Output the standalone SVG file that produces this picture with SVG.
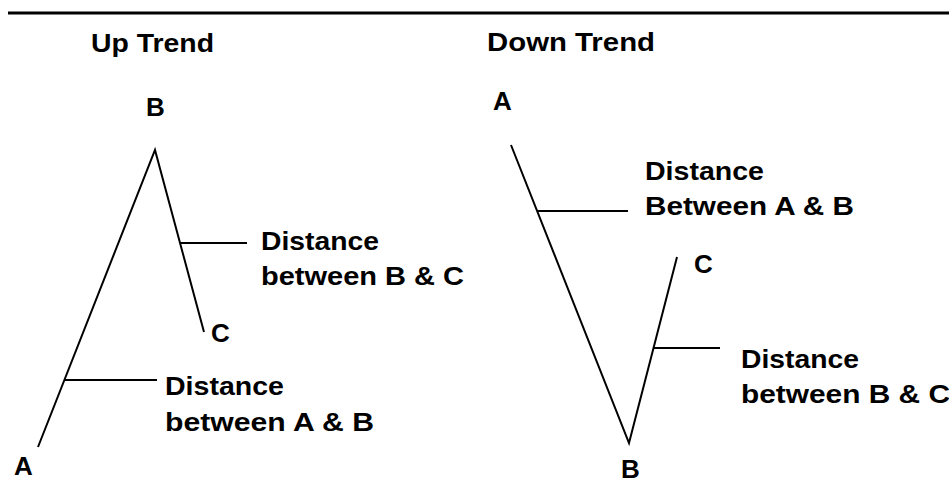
<svg xmlns="http://www.w3.org/2000/svg" width="949" height="481" viewBox="0 0 949 481">
<style>
text{font-family:"Liberation Sans",Arial,sans-serif;font-weight:bold;font-size:26px;fill:#000}
.ln{stroke:#000;stroke-width:2;fill:none;stroke-linecap:butt}
</style>
<rect width="949" height="481" fill="#fff"/>
<line x1="8" y1="13" x2="949" y2="13" stroke="#000" stroke-width="3"/>
<g id="up-title"><text x="91" y="52" textLength="123" lengthAdjust="spacingAndGlyphs">Up Trend</text></g>
<g id="down-title"><text x="487" y="51" textLength="168" lengthAdjust="spacingAndGlyphs">Down Trend</text></g>
<g id="up-B"><text x="146" y="116">B</text></g>
<g id="up-C"><text x="211" y="342">C</text></g>
<g id="up-A"><text x="14" y="475">A</text></g>
<g id="up-BC-label"><text x="261" y="250" textLength="118" lengthAdjust="spacingAndGlyphs">Distance</text><text x="261" y="285" textLength="203" lengthAdjust="spacingAndGlyphs">between B &amp; C</text></g>
<g id="up-AB-label"><text x="165" y="395" textLength="119" lengthAdjust="spacingAndGlyphs">Distance</text><text x="165" y="431" textLength="209" lengthAdjust="spacingAndGlyphs">between A &amp; B</text></g>
<g id="down-A"><text x="493" y="110">A</text></g>
<g id="down-C"><text x="694" y="273">C</text></g>
<g id="down-B"><text x="621" y="478">B</text></g>
<g id="down-AB-label"><text x="645" y="180" textLength="119" lengthAdjust="spacingAndGlyphs">Distance</text><text x="645" y="215" textLength="209" lengthAdjust="spacingAndGlyphs">Between A &amp; B</text></g>
<g id="down-BC-label"><text x="741" y="368" textLength="118" lengthAdjust="spacingAndGlyphs">Distance</text><text x="741" y="403" textLength="209" lengthAdjust="spacingAndGlyphs">between B &amp; C</text></g>
<g id="connectors">
<polyline class="ln" points="38,447 155,150 204,332"/>
<line class="ln" x1="180" y1="243" x2="247" y2="243"/>
<line class="ln" x1="64" y1="380" x2="157" y2="380"/>
<polyline class="ln" points="511,145 629,443 677,257"/>
<line class="ln" x1="537" y1="211" x2="628" y2="211"/>
<line class="ln" x1="654" y1="348" x2="720" y2="348"/>
</g>
</svg>
